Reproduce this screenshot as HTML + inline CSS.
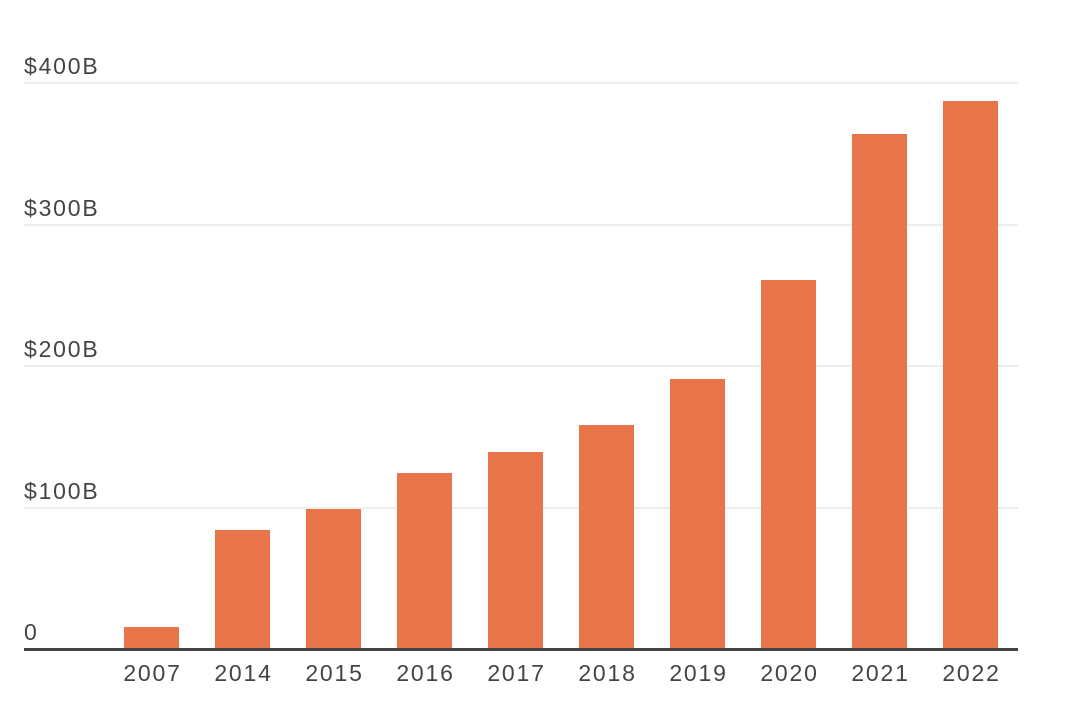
<!DOCTYPE html>
<html><head><style>body{margin:0;background:#fff}</style></head><body>
<svg width="1080" height="722" xmlns="http://www.w3.org/2000/svg" font-family="Liberation Sans, sans-serif">
<g stroke="#dcdcdc" stroke-width="1">
<line x1="24" x2="1018" y1="83" y2="83"/><line x1="24" x2="1018" y1="225" y2="225"/>
<line x1="24" x2="1018" y1="366" y2="366"/><line x1="24" x2="1018" y1="508" y2="508"/>
</g>
<g fill="#444" font-size="23" letter-spacing="1.8">
<text x="24" y="74">$400B</text><text x="24" y="216">$300B</text>
<text x="24" y="357">$200B</text><text x="24" y="499">$100B</text><text x="24" y="640">0</text>
</g>
<g fill="#E8744A">
<rect x="124" y="627" width="55" height="22"/>
<rect x="215" y="530" width="55" height="119"/>
<rect x="306" y="509" width="55" height="140"/>
<rect x="397" y="473" width="55" height="176"/>
<rect x="488" y="452" width="55" height="197"/>
<rect x="579" y="425" width="55" height="224"/>
<rect x="670" y="379" width="55" height="270"/>
<rect x="761" y="280" width="55" height="369"/>
<rect x="852" y="134" width="55" height="515"/>
<rect x="943" y="101" width="55" height="548"/>
</g>
<line x1="24" x2="1018" y1="649.5" y2="649.5" stroke="#444" stroke-width="3"/>
<g fill="#444" font-size="23" letter-spacing="1.8" text-anchor="middle">
<text x="152.5" y="681">2007</text><text x="243.5" y="681">2014</text><text x="334.5" y="681">2015</text>
<text x="425.5" y="681">2016</text><text x="516.5" y="681">2017</text><text x="607.5" y="681">2018</text>
<text x="698.5" y="681">2019</text><text x="789.5" y="681">2020</text><text x="880.5" y="681">2021</text>
<text x="971.5" y="681">2022</text>
</g>
</svg>
</body></html>
